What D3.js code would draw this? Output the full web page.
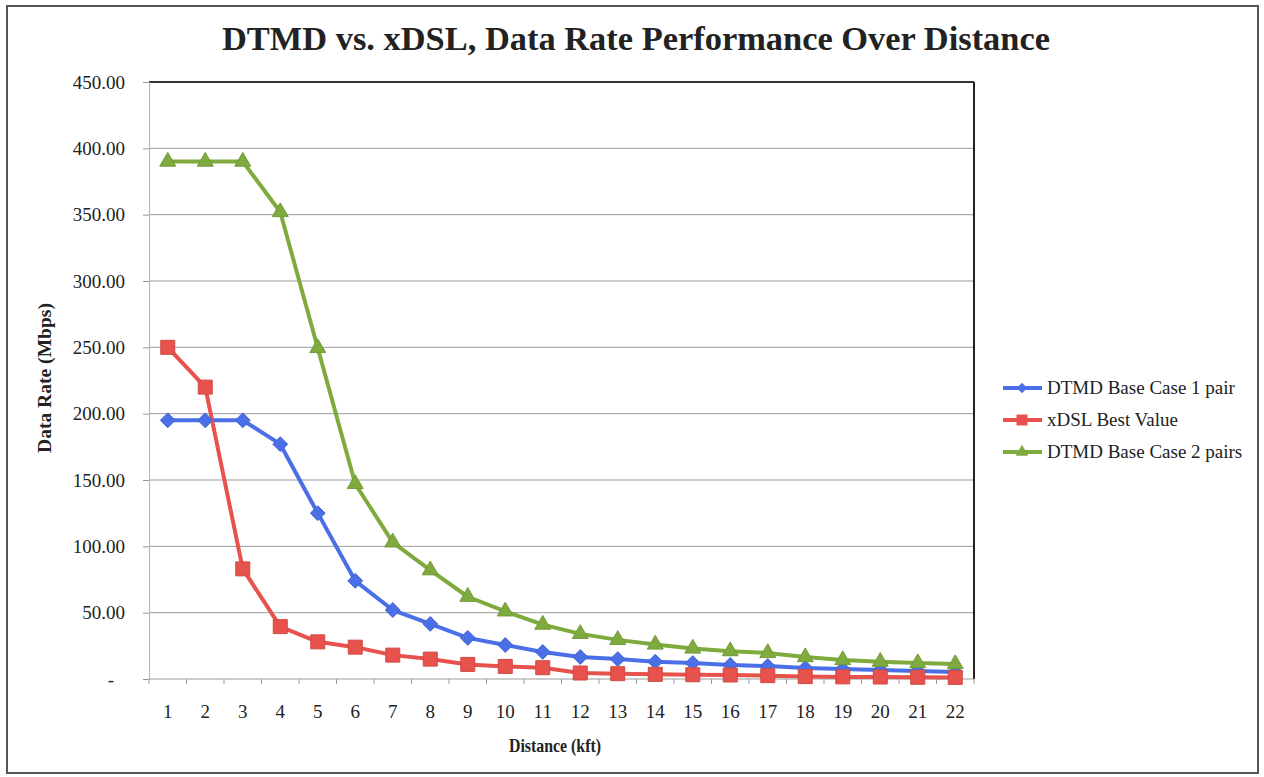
<!DOCTYPE html>
<html>
<head>
<meta charset="utf-8">
<script src="https://cdn.jsdelivr.net/npm/d3@7"></script>
<style>
  body { margin: 0; background: #fff; }
  text { font-family: "Liberation Serif", "Times New Roman", serif; fill: #222; }
</style>
</head>
<body>
<div class="chart"></div>
<script>
// data
var distances = ["1","2","3","4","5","6","7","8","9","10","11","12","13","14","15","16","17","18","19","20","21","22"];
var seriesNames = ["DTMD Base Case 1 pair", "xDSL Best Value", "DTMD Base Case 2 pairs"];
var onePair = [195, 195, 195, 177, 125, 74, 52, 41.5, 31, 25.6, 20.4, 16.6, 15, 13, 12, 10.6, 9.8, 8.3, 7.5, 6.8, 6, 5.3];
var xdslBest = [250, 220, 83, 39.5, 28, 24, 18, 15, 11, 9.5, 8.5, 4.5, 4, 3.5, 3.2, 3, 2.5, 1.8, 1.6, 1.5, 1.3, 1.2];
var twoPairs = [390, 390, 390, 352, 249.5, 147, 103, 82, 62, 51, 41, 34, 29.5, 26, 23, 21, 19.6, 16.5, 14.3, 13, 12, 11.3];
var yTicks = [0, 50, 100, 150, 200, 250, 300, 350, 400, 450];

var svgWidth = 1264;
var svgHeight = 777;
var margin = { top: 82, left: 149 };
var width = 825;
var height = 597;

var colors = ["#4a6fe6", "#e8524c", "#7fab3e"];
var allSeries = [onePair, xdslBest, twoPairs];

// marker shapes: diamond (square turned 45deg), square, triangle
var diamond = {
  draw: function(context, size) {
    var r = Math.sqrt(size) / 2;
    context.moveTo(0, -r);
    context.lineTo(r, 0);
    context.lineTo(0, r);
    context.lineTo(-r, 0);
    context.closePath();
  }
};
var symbols = [diamond, d3.symbolSquare, d3.symbolTriangle];
var markerSizes = [220, 196, 110];
var legendSizes = [110, 120, 70];

var svg = d3.select(".chart").append("svg")
  .attr("width", svgWidth)
  .attr("height", svgHeight);

// outer frame
svg.append("rect")
  .attr("x", 7).attr("y", 6)
  .attr("width", 1251).attr("height", 767)
  .attr("fill", "none").attr("stroke", "#555").attr("stroke-width", 2);

// title
svg.append("text")
  .attr("x", 636).attr("y", 50)
  .attr("text-anchor", "middle")
  .style("font-size", "33px")
  .style("font-weight", "bold")
  .attr("textLength", 828)
  .attr("lengthAdjust", "spacingAndGlyphs")
  .text("DTMD vs. xDSL, Data Rate Performance Over Distance");

var chart = svg.append("g")
  .attr("transform", "translate(" + margin.left + "," + margin.top + ")");

var xScale = d3.scaleBand().domain(distances).range([0, width]);
var yScale = d3.scaleLinear().domain([0, 450]).range([height, 0]);

// gridlines
chart.append("g")
  .selectAll("line")
  .data(yTicks.filter(function(d) { return d > 0; }))
  .enter()
  .append("line")
  .attr("x1", 0).attr("x2", width)
  .attr("y1", function(d) { return yScale(d); })
  .attr("y2", function(d) { return yScale(d); })
  .attr("stroke", "#9a9a9a")
  .attr("stroke-width", 1);

// plot border: dark top and right
chart.append("line").attr("x1", 0).attr("x2", width).attr("y1", 0).attr("y2", 0)
  .attr("stroke", "#333").attr("stroke-width", 2);
chart.append("line").attr("x1", width).attr("x2", width).attr("y1", 0).attr("y2", height)
  .attr("stroke", "#222").attr("stroke-width", 2);

// y axis
var leftAxis = d3.axisLeft(yScale)
  .tickValues(yTicks)
  .tickSize(6)
  .tickPadding(18)
  .tickFormat(function(d) { return d === 0 ? "-" : d3.format(".2f")(d); });
var yAxisG = chart.append("g").call(leftAxis);
yAxisG.select(".domain").attr("stroke", "#b0b4c8");
yAxisG.selectAll(".tick line").attr("stroke", "#999");
yAxisG.selectAll("text")
  .style("font-size", "19px")
  .style("font-family", "Liberation Serif, serif")
  .attr("fill", "#222")
  .attr("dx", function(d) { return d === 0 ? -11 : 0; });

// x axis with ticks at category boundaries
var xAxisG = chart.append("g").attr("transform", "translate(0," + height + ")");
xAxisG.append("line").attr("x1", 0).attr("x2", width)
  .attr("stroke", "#999").attr("stroke-width", 1);
xAxisG.selectAll(".bound")
  .data(distances.concat(["end"]))
  .enter()
  .append("line")
  .attr("class", "bound")
  .attr("x1", function(d, i) { return i * xScale.bandwidth(); })
  .attr("x2", function(d, i) { return i * xScale.bandwidth(); })
  .attr("y1", 0).attr("y2", 5)
  .attr("stroke", "#999");
xAxisG.selectAll(".lbl")
  .data(distances)
  .enter()
  .append("text")
  .attr("class", "lbl")
  .attr("x", function(d) { return xScale(d) + xScale.bandwidth() / 2; })
  .attr("y", 39)
  .attr("text-anchor", "middle")
  .style("font-size", "19px")
  .text(function(d) { return d; });

// series lines and markers
var line = d3.line()
  .x(function(d, i) { return xScale(distances[i]) + xScale.bandwidth() / 2; })
  .y(function(d) { return yScale(d); });

allSeries.forEach(function(values, s) {
  chart.append("path")
    .datum(values)
    .attr("d", line)
    .attr("fill", "none")
    .attr("stroke", colors[s])
    .attr("stroke-width", 4)
    .attr("stroke-linejoin", "round");
});

allSeries.forEach(function(values, s) {
  chart.selectAll(".m" + s)
    .data(values)
    .enter()
    .append("path")
    .attr("class", "m" + s)
    .attr("d", d3.symbol().type(symbols[s]).size(markerSizes[s]))
    .attr("transform", function(d, i) {
      return "translate(" + (xScale(distances[i]) + xScale.bandwidth() / 2) + "," + yScale(d) + ")";
    })
    .attr("fill", colors[s])
    .attr("stroke", d3.color(colors[s]).darker(0.3))
    .attr("stroke-width", 1);
});

// axis titles
svg.append("text")
  .attr("x", 555).attr("y", 752)
  .attr("text-anchor", "middle")
  .style("font-size", "18px")
  .style("font-weight", "bold")
  .attr("textLength", 92)
  .attr("lengthAdjust", "spacingAndGlyphs")
  .text("Distance (kft)");

svg.append("text")
  .attr("transform", "translate(51,378) rotate(-90)")
  .attr("text-anchor", "middle")
  .style("font-size", "18px")
  .style("font-weight", "bold")
  .attr("textLength", 150)
  .attr("lengthAdjust", "spacingAndGlyphs")
  .text("Data Rate  (Mbps)");

// legend
var legend = svg.append("g");
seriesNames.forEach(function(name, s) {
  var y = 388 + s * 32;
  legend.append("line")
    .attr("x1", 1003).attr("x2", 1042).attr("y1", y).attr("y2", y)
    .attr("stroke", colors[s]).attr("stroke-width", 4);
  legend.append("path")
    .attr("d", d3.symbol().type(symbols[s]).size(legendSizes[s]))
    .attr("transform", "translate(1022," + y + ")")
    .attr("fill", colors[s]);
  legend.append("text")
    .attr("x", 1047).attr("y", y + 6)
    .style("font-size", "19px")
    .text(name);
});
</script>
</body>
</html>
